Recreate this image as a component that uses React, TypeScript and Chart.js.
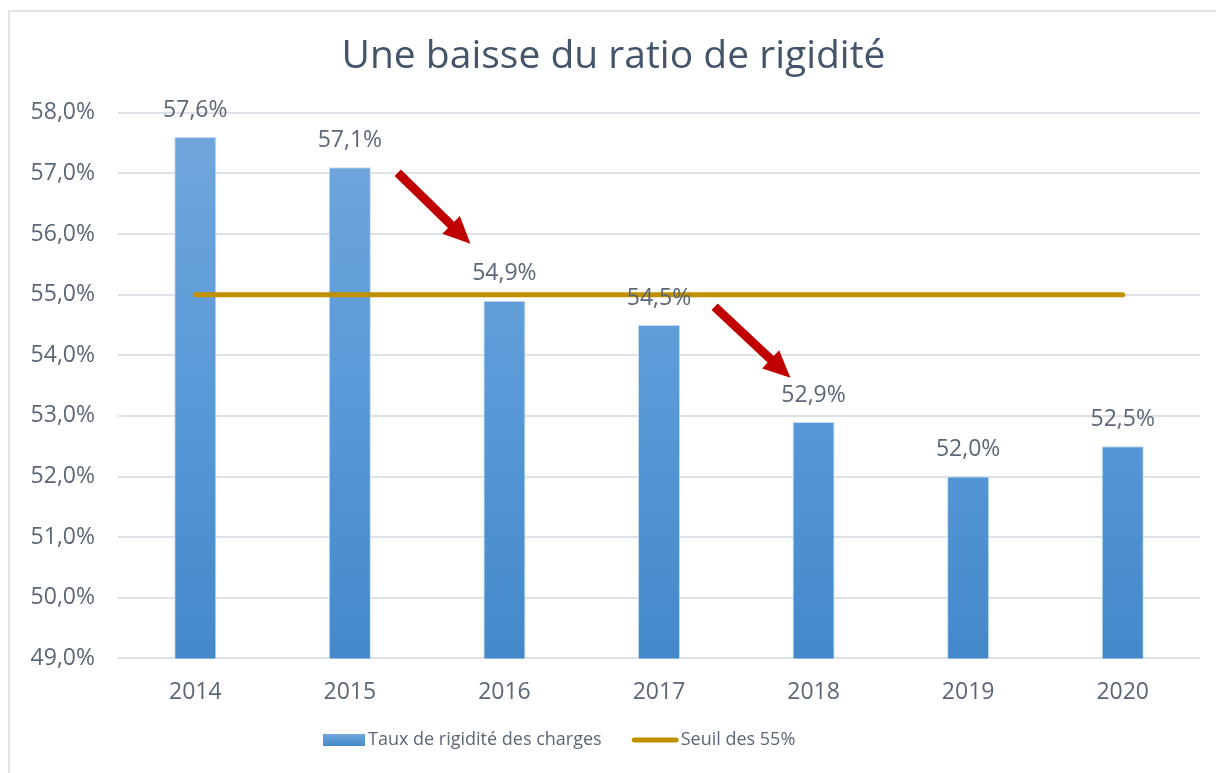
import React, { useEffect, useRef } from "react";
import { Chart, registerables } from "chart.js";

Chart.register(...registerables);

const categories = ["2014", "2015", "2016", "2017", "2018", "2019", "2020"];
const rigidite = [57.6, 57.1, 54.9, 54.5, 52.9, 52.0, 52.5];
const seuil = [55, 55, 55, 55, 55, 55, 55];
const yTicks = [49, 50, 51, 52, 53, 54, 55, 56, 57, 58];
// arrows in data coordinates: [fromIndex, fromValue, toIndex, toValue]
const arrows = [
  [1.31, 57.01, 1.78, 55.84],
  [3.36, 54.8, 3.85, 53.63],
];
const titleText = "Une baisse du ratio de rigidité";
const legendLabels = ["Taux de rigidité des charges", "Seuil des 55%"];

const FONT = "'Open Sans', 'Noto Sans', sans-serif";
const TEXT = "#5b6677";
const GRID = "#dde2ea";
const GOLD = "#c09000";
const RED = "#c00000";

const fmt = (v: number) => v.toFixed(1).replace(".", ",") + "%";

export default function App() {
  const ref = useRef<HTMLCanvasElement | null>(null);

  useEffect(() => {
    const canvas = ref.current;
    if (!canvas) return;
    const ctx = canvas.getContext("2d")!;

    const framePlugin = {
      id: "frame",
      beforeDraw(chart: any) {
        const c = chart.ctx;
        c.save();
        c.fillStyle = "#ffffff";
        c.fillRect(0, 0, chart.width, chart.height);
        c.strokeStyle = "#dfe3ea";
        c.lineWidth = 2;
        c.beginPath();
        c.moveTo(9, chart.height);
        c.lineTo(9, 11);
        c.lineTo(chart.width, 11);
        c.stroke();
        c.restore();
      },
    };

    const labelsPlugin = {
      id: "valueLabels",
      afterDatasetsDraw(chart: any) {
        const c = chart.ctx;
        const meta = chart.getDatasetMeta(0);
        c.save();
        c.font = `23px ${FONT}`;
        c.fillStyle = TEXT;
        c.textAlign = "center";
        c.textBaseline = "middle";
        meta.data.forEach((bar: any, i: number) => {
          c.fillText(fmt(rigidite[i]), bar.x, bar.y - 27);
        });
        c.restore();
      },
    };

    const arrowPlugin = {
      id: "arrows",
      afterDatasetsDraw(chart: any) {
        const c = chart.ctx;
        const xs = chart.scales.x;
        const ys = chart.scales.y;
        const first = xs.getPixelForValue(0);
        const step = xs.getPixelForValue(1) - first;
        c.save();
        c.fillStyle = RED;
        arrows.forEach(([fi, fv, ti, tv]) => {
          const x1 = first + fi * step;
          const y1 = ys.getPixelForValue(fv);
          const x2 = first + ti * step;
          const y2 = ys.getPixelForValue(tv);
          const ang = Math.atan2(y2 - y1, x2 - x1);
          const len = Math.hypot(x2 - x1, y2 - y1);
          const headL = 27;
          const headW = 12.5;
          const shaftW = 4.5;
          c.save();
          c.translate(x1, y1);
          c.rotate(ang);
          c.beginPath();
          c.moveTo(0, -shaftW);
          c.lineTo(len - headL, -shaftW);
          c.lineTo(len - headL, -headW);
          c.lineTo(len, 0);
          c.lineTo(len - headL, headW);
          c.lineTo(len - headL, shaftW);
          c.lineTo(0, shaftW);
          c.closePath();
          c.fill();
          c.restore();
        });
        c.restore();
      },
    };

    const legendPlugin = {
      id: "customLegend",
      afterDraw(chart: any) {
        const c = chart.ctx;
        const y = 740;
        c.save();
        c.font = `18px ${FONT}`;
        c.textBaseline = "middle";
        c.fillStyle = TEXT;
        const w0 = c.measureText(legendLabels[0]).width;
        let x = 323;
        const g = c.createLinearGradient(0, y - 6, 0, y + 6);
        g.addColorStop(0, "#72a7dc");
        g.addColorStop(1, "#4389ca");
        c.fillStyle = g;
        c.fillRect(x, y - 6, 42, 12);
        x += 45;
        c.fillStyle = TEXT;
        c.fillText(legendLabels[0], x, y);
        x = Math.max(x + w0 + 30, 630);
        c.strokeStyle = GOLD;
        c.lineWidth = 5;
        c.lineCap = "round";
        c.beginPath();
        c.moveTo(x + 2.5, y);
        c.lineTo(x + 44.5, y);
        c.stroke();
        x += 49;
        c.fillText(legendLabels[1], x, y);
        c.restore();
      },
    };

    const chart = new Chart(ctx, {
      data: {
        labels: categories,
        datasets: [
          {
            type: "bar",
            label: legendLabels[0],
            data: rigidite,
            order: 2,
            backgroundColor: (context: any) => {
              const ch = context.chart;
              const area = ch.chartArea;
              if (!area) return "#5a9ad8";
              const el = context.element;
              const top = el && typeof el.y === "number" ? el.y : area.top;
              const g = ch.ctx.createLinearGradient(0, top, 0, area.bottom);
              g.addColorStop(0, "#72a7dc");
              g.addColorStop(0.5, "#5a9ad8");
              g.addColorStop(1, "#4389ca");
              return g;
            },
            borderColor: "rgba(190,215,240,0.9)",
            borderWidth: 1,
            barPercentage: 0.272,
            categoryPercentage: 1,
          } as any,
          {
            type: "line",
            label: legendLabels[1],
            data: seuil,
            order: 1,
            borderColor: GOLD,
            borderWidth: 5,
            borderCapStyle: "round",
            pointRadius: 0,
            fill: false,
          } as any,
        ],
      },
      options: {
        animation: false,
        responsive: false,
        maintainAspectRatio: false,
        layout: { padding: { left: 27, right: 16, top: 0, bottom: 55 } },
        plugins: {
          legend: { display: false },
          tooltip: { enabled: false },
          title: {
            display: true,
            text: titleText,
            color: "#44546a",
            font: { family: FONT, size: 39, weight: "normal" as any },
            padding: { top: 33, bottom: 33 },
          },
        },
        scales: {
          x: {
            grid: { display: false },
            border: { display: false },
            ticks: {
              color: TEXT,
              font: { family: FONT, size: 23 },
              padding: 12,
            },
          },
          y: {
            min: 49,
            max: 58,
            afterBuildTicks: (axis: any) => {
              axis.ticks = yTicks.map((v) => ({ value: v }));
            },
            afterFit: (axis: any) => {
              axis.width = 91;
            },
            grid: { color: GRID, lineWidth: 2, drawTicks: false },
            border: { display: false },
            ticks: {
              color: TEXT,
              font: { family: FONT, size: 23 },
              padding: 23,
              callback: (v: any) => fmt(Number(v)),
            },
          },
        },
      },
      plugins: [framePlugin, labelsPlugin, arrowPlugin, legendPlugin],
    } as any);

    return () => chart.destroy();
  }, []);

  return (
    <div style={{ position: "fixed", left: 0, top: 0, width: 1216, height: 773 }}>
      <canvas ref={ref} width={1216} height={773} style={{ width: 1216, height: 773, display: "block" }} />
    </div>
  );
}
